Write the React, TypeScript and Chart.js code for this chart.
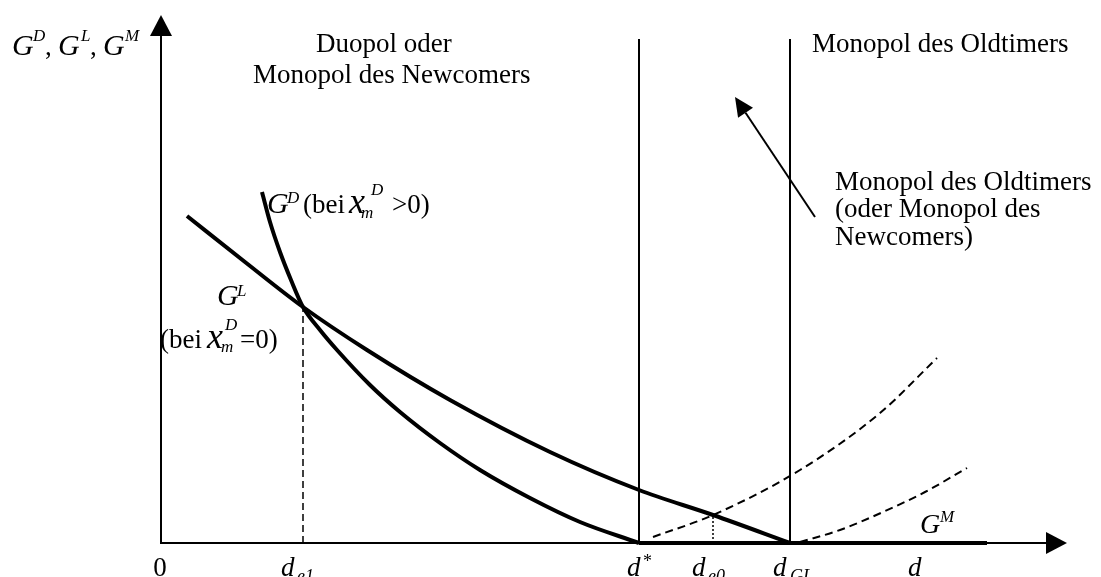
import React, { useEffect, useRef } from "react";
import { Chart, registerables } from "chart.js";

Chart.register(...registerables);

// Values in diagram units: d along the horizontal axis, G along the vertical axis (origin = axis crossing)
const X_MAX = 906;
const Y_MAX = 528;

const GL_D = [26, 84, 142, 206, 289, 389, 478, 552, 629];
const GL_G = [327, 281, 236, 193, 143, 91, 53, 28, 0];

const GD_D = [101, 109, 119, 130, 142, 159, 176, 209, 239, 279, 319, 369, 419, 478];
const GD_G = [351, 321, 291, 263, 236, 213, 193, 158, 131, 100, 73, 45, 21, 0];

const GM_D = [478, 826];
const GM_G = [0, 0];

const OLD1_D = [492, 552, 639, 719, 776];
const OLD1_G = [6, 28, 73, 130, 185];

const OLD2_D = [639, 679, 722, 764, 806];
const OLD2_G = [1, 13, 31, 51, 75];

const D_STAR = 478;
const D_GL = 629;
const D_E1 = 142;
const D_E0 = 552;
const REGION_TOP = 504;

const ARROW_FROM = [654, 326];
const ARROW_TO = [574, 446];

const FF = '"Liberation Serif", "Times New Roman", serif';
const REG = `27px ${FF}`;
const GIT = `italic 30px ${FF}`;
const SUP = `italic 17px ${FF}`;
const BIGX = `italic 36px ${FF}`;
const DIT = `italic 27px ${FF}`;
const SUB = `italic 18px ${FF}`;

type Seg = { t: string; font: string; dx: number; dy: number; align?: CanvasTextAlign };
type Label = { x: number; y: number; segs: Seg[] };

const LABELS: Label[] = [
  { x: 155, y: 491, segs: [{ t: "Duopol oder", font: REG, dx: 0, dy: 0 }] },
  { x: 92, y: 460, segs: [{ t: "Monopol des Newcomers", font: REG, dx: 0, dy: 0 }] },
  { x: 651, y: 491, segs: [{ t: "Monopol des Oldtimers", font: REG, dx: 0, dy: 0 }] },
  { x: 674, y: 353, segs: [{ t: "Monopol des Oldtimers", font: REG, dx: 0, dy: 0 }] },
  { x: 674, y: 326, segs: [{ t: "(oder Monopol des", font: REG, dx: 0, dy: 0 }] },
  { x: 674, y: 298, segs: [{ t: "Newcomers)", font: REG, dx: 0, dy: 0 }] },
  {
    x: -149,
    y: 488,
    segs: [
      { t: "G", font: GIT, dx: 0, dy: 0 },
      { t: "D", font: SUP, dx: 21, dy: -14 },
      { t: ",", font: REG, dx: 33, dy: 0 },
      { t: "G", font: GIT, dx: 46, dy: 0 },
      { t: "L", font: SUP, dx: 69, dy: -14 },
      { t: ",", font: REG, dx: 78, dy: 0 },
      { t: "G", font: GIT, dx: 91, dy: 0 },
      { t: "M", font: SUP, dx: 113, dy: -14 },
    ],
  },
  {
    x: 106,
    y: 330,
    segs: [
      { t: "G", font: GIT, dx: 0, dy: 0 },
      { t: "D", font: SUP, dx: 20, dy: -10 },
      { t: "(bei", font: REG, dx: 36, dy: 0 },
      { t: "x", font: BIGX, dx: 82, dy: 0 },
      { t: "m", font: SUP, dx: 94, dy: 5 },
      { t: "D", font: SUP, dx: 104, dy: -18 },
      { t: ">0)", font: REG, dx: 125, dy: 0 },
    ],
  },
  {
    x: 56,
    y: 238,
    segs: [
      { t: "G", font: GIT, dx: 0, dy: 0 },
      { t: "L", font: SUP, dx: 20, dy: -9 },
    ],
  },
  {
    x: -1,
    y: 195,
    segs: [
      { t: "(bei", font: REG, dx: 0, dy: 0 },
      { t: "x", font: BIGX, dx: 47, dy: 0 },
      { t: "m", font: SUP, dx: 61, dy: 4 },
      { t: "D", font: SUP, dx: 65, dy: -18 },
      { t: "=0)", font: REG, dx: 80, dy: 0 },
    ],
  },
  {
    x: 759,
    y: 10,
    segs: [
      { t: "G", font: `italic 28px ${FF}`, dx: 0, dy: 0 },
      { t: "M", font: SUP, dx: 20, dy: -11 },
    ],
  },
  { x: -1, y: -33, segs: [{ t: "0", font: REG, dx: 0, dy: 0, align: "center" }] },
  {
    x: 120,
    y: -33,
    segs: [
      { t: "d", font: DIT, dx: 0, dy: 0 },
      { t: "e1", font: SUB, dx: 16, dy: 6 },
    ],
  },
  {
    x: 466,
    y: -33,
    segs: [
      { t: "d", font: DIT, dx: 0, dy: 0 },
      { t: "*", font: `18px ${FF}`, dx: 16, dy: -9 },
    ],
  },
  {
    x: 531,
    y: -33,
    segs: [
      { t: "d", font: DIT, dx: 0, dy: 0 },
      { t: "e0", font: SUB, dx: 16, dy: 6 },
    ],
  },
  {
    x: 612,
    y: -33,
    segs: [
      { t: "d", font: DIT, dx: 0, dy: 0 },
      { t: "GL", font: SUB, dx: 17, dy: 6 },
    ],
  },
  { x: 747, y: -33, segs: [{ t: "d", font: DIT, dx: 0, dy: 0 }] },
];

const pts = (xs: number[], ys: number[]) => xs.map((x, i) => ({ x, y: ys[i] }));

const diagramPlugin = {
  id: "diagram",
  beforeDatasetsDraw(chart: any) {
    const ctx: CanvasRenderingContext2D = chart.ctx;
    const xs = chart.scales.x;
    const ys = chart.scales.y;
    const x0 = xs.getPixelForValue(0);
    const y0 = ys.getPixelForValue(0);
    const xTip = xs.getPixelForValue(X_MAX);
    const yTip = ys.getPixelForValue(Y_MAX);
    const head = 21;
    const hw = 11;
    ctx.save();
    ctx.strokeStyle = "#000";
    ctx.fillStyle = "#000";
    ctx.lineWidth = 2;
    ctx.beginPath();
    ctx.moveTo(x0, y0);
    ctx.lineTo(x0, yTip + head);
    ctx.moveTo(x0 - 1, y0);
    ctx.lineTo(xTip - head, y0);
    ctx.stroke();
    ctx.beginPath();
    ctx.moveTo(x0, yTip);
    ctx.lineTo(x0 - hw, yTip + head);
    ctx.lineTo(x0 + hw, yTip + head);
    ctx.closePath();
    ctx.fill();
    ctx.beginPath();
    ctx.moveTo(xTip, y0);
    ctx.lineTo(xTip - head, y0 - hw);
    ctx.lineTo(xTip - head, y0 + hw);
    ctx.closePath();
    ctx.fill();
    ctx.restore();
  },
  afterDatasetsDraw(chart: any) {
    const ctx: CanvasRenderingContext2D = chart.ctx;
    const xs = chart.scales.x;
    const ys = chart.scales.y;
    ctx.save();
    ctx.fillStyle = "#000";
    ctx.strokeStyle = "#000";
    const ax = xs.getPixelForValue(ARROW_FROM[0]);
    const ay = ys.getPixelForValue(ARROW_FROM[1]);
    const bx = xs.getPixelForValue(ARROW_TO[0]);
    const by = ys.getPixelForValue(ARROW_TO[1]);
    const ang = Math.atan2(by - ay, bx - ax);
    const hl = 19;
    const hw = 9;
    const baseX = bx - hl * Math.cos(ang);
    const baseY = by - hl * Math.sin(ang);
    ctx.lineWidth = 2;
    ctx.beginPath();
    ctx.moveTo(ax, ay);
    ctx.lineTo(baseX, baseY);
    ctx.stroke();
    ctx.beginPath();
    ctx.moveTo(bx, by);
    ctx.lineTo(baseX + hw * Math.sin(ang), baseY - hw * Math.cos(ang));
    ctx.lineTo(baseX - hw * Math.sin(ang), baseY + hw * Math.cos(ang));
    ctx.closePath();
    ctx.fill();
    ctx.textBaseline = "alphabetic";
    for (const lab of LABELS) {
      const px = xs.getPixelForValue(lab.x);
      const py = ys.getPixelForValue(lab.y);
      for (const s of lab.segs) {
        ctx.font = s.font;
        ctx.textAlign = s.align || "left";
        ctx.fillText(s.t, px + s.dx, py + s.dy);
      }
    }
    ctx.restore();
  },
};

export default function App() {
  const ref = useRef<HTMLCanvasElement | null>(null);
  useEffect(() => {
    if (!ref.current) return;
    const solid = (data: any[], width: number, curve: boolean, dash: number[] = []) => ({
      data,
      showLine: true,
      borderColor: "#000",
      backgroundColor: "#000",
      borderWidth: width,
      borderDash: dash,
      pointRadius: 0,
      fill: false,
      clip: false,
      cubicInterpolationMode: curve ? "monotone" : "default",
      tension: 0,
      borderCapStyle: "butt",
    });
    const chart = new Chart(ref.current, {
      type: "scatter",
      data: {
        datasets: [
          solid(pts([D_STAR, D_STAR], [0, REGION_TOP]), 2, false),
          solid(pts([D_GL, D_GL], [0, REGION_TOP]), 2, false),
          solid(pts([D_E1, D_E1], [0, GL_G[2]]), 1.5, false, [7, 4]),
          solid(pts([D_E0, D_E0], [0, OLD1_G[1]]), 1.5, false, [2, 2]),
          solid(pts(OLD1_D, OLD1_G), 2, true, [8, 5]),
          solid(pts(OLD2_D, OLD2_G), 2, true, [8, 5]),
          solid(pts(GL_D, GL_G), 4, true),
          solid(pts(GD_D, GD_G), 4, true),
          solid(pts(GM_D, GM_G), 4, false),
        ] as any,
      },
      options: {
        responsive: false,
        animation: false,
        devicePixelRatio: 1,
        layout: { padding: { left: 161, right: 34, top: 15, bottom: 34 } },
        plugins: { legend: { display: false }, tooltip: { enabled: false } },
        scales: {
          x: { type: "linear", display: false, min: 0, max: X_MAX },
          y: { type: "linear", display: false, min: 0, max: Y_MAX },
        },
      } as any,
      plugins: [diagramPlugin],
    });
    return () => chart.destroy();
  }, []);
  return (
    <div style={{ position: "fixed", left: 0, top: 0, width: 1101, height: 577, background: "#fff" }}>
      <canvas ref={ref} width={1101} height={577} style={{ width: 1101, height: 577 }} />
    </div>
  );
}
